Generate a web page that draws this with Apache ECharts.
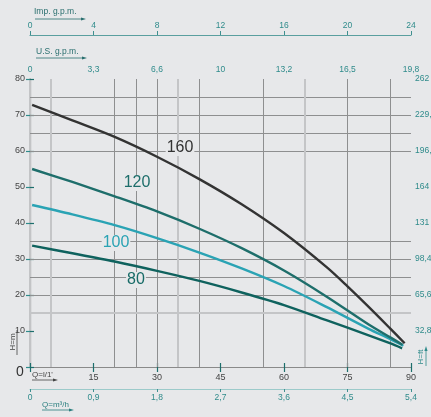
<!DOCTYPE html>
<html><head><meta charset="utf-8">
<script src="https://cdn.jsdelivr.net/npm/echarts@6/dist/echarts.min.js"></script>
<style>html,body{margin:0;padding:0;background:#e7e8ea}#c{width:431px;height:417px}</style>
</head><body><div id="c"></div>
<script>
// ---- data ----
const flow160 = [0.5, 10, 20, 30, 40, 50, 60, 70, 75, 80, 85, 88.5];
const head160 = [72.8, 68.5, 63.9, 58.4, 52.2, 45.2, 37.2, 27.8, 22.4, 16.7, 10.8, 6.6];
const flow120 = [0.5, 10, 20, 30, 40, 50, 60, 70, 80, 85, 88];
const head120 = [55, 51.4, 47.4, 43.2, 38.4, 33, 26.8, 19.6, 11.8, 8.3, 6.2];
const flow100 = [0.5, 10, 20, 30, 40, 50, 60, 70, 80, 85, 88.2];
const head100 = [45, 42.4, 39.4, 35.8, 31.8, 27.4, 22.5, 16.7, 10.6, 7.8, 5.9];
const flow80 = [0.5, 10, 20, 30, 40, 50, 60, 70, 80, 85, 87.9];
const head80 = [33.7, 31.6, 29.3, 26.7, 23.9, 20.7, 17.2, 13.0, 8.8, 6.6, 5.2];

const lpmLabels = ['', '15', '30', '45', '60', '75', '90'];
const usGpmLabels = ['0', '3,3', '6,6', '10', '13,2', '16,5', '19,8'];
const impGpmLabels = ['0', '4', '8', '12', '16', '20', '24'];
const m3hLabels = ['0', '0,9', '1,8', '2,7', '3,6', '4,5', '5,4'];
const hmLabels = ['', '10', '20', '30', '40', '50', '60', '70', '80'];
const hftLabels = ['', '32,8', '65,6', '98,4', '131', '164', '196,8', '229,6', '262'];

const gridV = [20, 25, 30, 40, 55, 75, 85];
const gridVLight = [5, 35, 65];
const gridH = [20, 25, 30, 35, 60, 65, 70, 75];
const gridHLight = [15];

// ---- styles ----
const BG = '#e7e8ea';
const TEAL = '#2f8b8b';
const FONT = 'Liberation Sans';
const zip = (a, b) => a.map((v, i) => [v, b[i]]);
const byIdx = (labels, step) => v => { const s = labels[Math.round(v / step)]; return s === undefined ? '' : s; };

const chart = echarts.init(document.getElementById('c'), null, {renderer: 'canvas'});

function xAx(opts) {
  return Object.assign({
    type: 'value', min: 0, max: 90, interval: 15, gridIndex: 0,
    splitLine: {show: false},
    axisTick: {show: true, length: 5, lineStyle: {color: '#1d6e6c', width: 1.2}},
  }, opts);
}

function arrowH(x1, x2, y, color) {
  return [
    {type: 'line', shape: {x1: x1, y1: y, x2: x2 - 3, y2: y}, style: {stroke: color, lineWidth: 0.8}, silent: true},
    {type: 'polygon', shape: {points: [[x2, y], [x2 - 5, y - 1.6], [x2 - 5, y + 1.6]]}, style: {fill: color}, silent: true}
  ];
}
function arrowV(x, y1, y2, color) {
  return [
    {type: 'line', shape: {x1: x, y1: y1, x2: x, y2: y2 + 3}, style: {stroke: color, lineWidth: 0.8}, silent: true},
    {type: 'polygon', shape: {points: [[x, y2], [x - 1.6, y2 + 5], [x + 1.6, y2 + 5]]}, style: {fill: color}, silent: true}
  ];
}
function txt(x, y, s, size, color, extra) {
  return Object.assign({type: 'text', x: x, y: y, silent: true,
    style: {text: s, fontSize: size, fill: color, fontFamily: FONT, align: 'left', verticalAlign: 'middle'}}, extra || {});
}
function vtxt(x, y, s, size, color) {
  return {type: 'text', x: x, y: y, rotation: Math.PI / 2, silent: true,
    style: {text: s, fontSize: size, fill: color, fontFamily: FONT, align: 'center', verticalAlign: 'middle'}};
}
function curveLabel(x, y, s, color) {
  return {type: 'text', x: x, y: y, z: 50, silent: true,
    style: {text: s, fontSize: 16, fill: color, fontFamily: FONT, align: 'center', verticalAlign: 'middle',
      backgroundColor: BG, padding: [0, 1]}};
}

const option = {
  backgroundColor: BG,
  animation: false,
  textStyle: {fontFamily: FONT},
  grid: {left: 30, right: 20, top: 79, bottom: 50, containLabel: false, outerBoundsMode: 'none'},
  xAxis: [
    xAx({position: 'bottom',
      axisLine: {show: true, lineStyle: {color: '#6f6f6f', width: 1.2}},
      axisLabel: {fontSize: 9, color: '#444', margin: 6, formatter: byIdx(lpmLabels, 15)}}),
    xAx({position: 'top',
      axisLine: {show: true, lineStyle: {color: '#8a8a8a', width: 1}},
      axisTick: {show: true, length: 4, lineStyle: {color: '#1d6e6c', width: 1.2}},
      axisLabel: {fontSize: 8.5, color: TEAL, margin: 5, formatter: byIdx(usGpmLabels, 15)}}),
    xAx({position: 'top', offset: 44,
      axisLine: {show: true, lineStyle: {color: '#5a9f9f', width: 1.2}},
      axisTick: {show: true, length: 4, lineStyle: {color: '#3f8f8f', width: 1}},
      axisLabel: {fontSize: 8.5, color: TEAL, margin: 5, formatter: byIdx(impGpmLabels, 15)}}),
    xAx({position: 'bottom', offset: 22,
      axisLine: {show: true, lineStyle: {color: '#9ccaca', width: 1.2}},
      axisTick: {show: true, length: 3, lineStyle: {color: '#3f8f8f', width: 1}},
      axisLabel: {fontSize: 8.5, color: TEAL, margin: 4, formatter: byIdx(m3hLabels, 15)}})
  ],
  yAxis: [
    {type: 'value', min: 0, max: 80, interval: 10, position: 'left',
      splitLine: {show: false},
      axisLine: {show: true, lineStyle: {color: '#6f6f6f', width: 1.2}},
      axisTick: {show: true, length: 4, lineStyle: {color: '#2f8b8b', width: 1.2}},
      axisLabel: {fontSize: 9, color: '#444', margin: 5, formatter: byIdx(hmLabels, 10)}},
    {type: 'value', min: 0, max: 80, interval: 10, position: 'right',
      splitLine: {show: false},
      axisLine: {show: true, lineStyle: {color: '#c3c4c6', width: 2}},
      axisTick: {show: true, length: 4, lineStyle: {color: '#1d6e6c', width: 1.2}},
      axisLabel: {fontSize: 8.5, color: TEAL, margin: 4, formatter: byIdx(hftLabels, 10)}}
  ],
  series: [
    {type: 'line', data: [], silent: true, z: 1,
      markLine: {silent: true, symbol: 'none', label: {show: false}, animation: false,
        lineStyle: {color: '#8e8f90', width: 1, type: 'solid'},
        emphasis: {disabled: true},
        data: gridV.map(v => ({xAxis: v})).concat(gridH.map(v => ({yAxis: v})))}},
    {type: 'line', data: [], silent: true, z: 1,
      markLine: {silent: true, symbol: 'none', label: {show: false}, animation: false,
        lineStyle: {color: '#c4c5c7', width: 2, type: 'solid'},
        emphasis: {disabled: true},
        data: gridVLight.map(v => ({xAxis: v})).concat(gridHLight.map(v => ({yAxis: v})))}},
    {name: '80', type: 'line', data: zip(flow80, head80), smooth: 0.3, showSymbol: false, z: 5,
      lineStyle: {color: '#0f625e', width: 2.4}, emphasis: {disabled: true}},
    {name: '100', type: 'line', data: zip(flow100, head100), smooth: 0.3, showSymbol: false, z: 5,
      lineStyle: {color: '#2aa3b4', width: 2.4}, emphasis: {disabled: true}},
    {name: '120', type: 'line', data: zip(flow120, head120), smooth: 0.3, showSymbol: false, z: 5,
      lineStyle: {color: '#1e6e6b', width: 2.4}, emphasis: {disabled: true}},
    {name: '160', type: 'line', data: zip(flow160, head160), smooth: 0.3, showSymbol: false, z: 5,
      lineStyle: {color: '#333333', width: 2.4}, emphasis: {disabled: true}}
  ],
  graphic: [].concat(
    [txt(34, 12, 'Imp. g.p.m.', 8.5, '#2a6f6f')],
    arrowH(35, 86, 19, '#2a6f6f'),
    [txt(36, 52, 'U.S. g.p.m.', 8.5, '#2a6f6f')],
    arrowH(36, 87, 58, '#2a6f6f'),
    [txt(32, 375, "Q=l/1'", 8, '#444')],
    arrowH(32, 58, 380, '#444'),
    [txt(42, 405, 'Q=m³/h', 8, '#2a7f7f')],
    arrowH(42, 74, 410, '#2a7f7f'),
    [vtxt(13, 342, 'H=m', 8, '#444')],
    [{type: 'line', shape: {x1: 17, y1: 355, x2: 17, y2: 330}, style: {stroke: '#444', lineWidth: 0.8}, silent: true}],
    [vtxt(421, 357, 'H=ft', 8, TEAL)],
    arrowV(426, 366, 346, TEAL),
    [txt(16, 372, '0', 14, '#333')],
    [curveLabel(180, 148, '160', '#333333'),
     curveLabel(137, 183, '120', '#1e6e6b'),
     curveLabel(116, 243, '100', '#2aa3b4'),
     curveLabel(136, 280, '80', '#166a66')]
  )
};
chart.setOption(option);
</script>
</body></html>
